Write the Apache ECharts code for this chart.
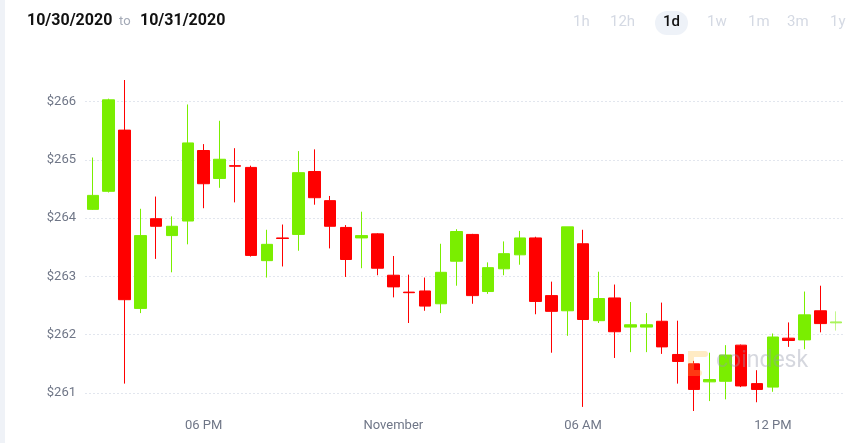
<!DOCTYPE html>
<html>
<head>
<meta charset="utf-8">
<script src="https://cdn.jsdelivr.net/npm/echarts@6/dist/echarts.min.js"></script>
<style>
  html, body { margin: 0; padding: 0; background: #fff; }
  #chart { width: 864px; height: 443px; }
</style>
</head>
<body>
<div id="chart"></div>
<script>
// 30 minute candles, 10/30 2:30 PM -> 10/31 2:00 PM
const times = [
  '14:30', '15:00', '15:30', '16:00', '16:30', '17:00', '17:30', '18:00',
  '18:30', '19:00', '19:30', '20:00', '20:30', '21:00', '21:30', '22:00',
  '22:30', '23:00', '23:30', '00:00', '00:30', '01:00', '01:30', '02:00',
  '02:30', '03:00', '03:30', '04:00', '04:30', '05:00', '05:30', '06:00',
  '06:30', '07:00', '07:30', '08:00', '08:30', '09:00', '09:30', '10:00',
  '10:30', '11:00', '11:30', '12:00', '12:30', '13:00', '13:30', '14:00'
]
const tickLabels = { '18:00': '06 PM', '00:00': 'November', '06:00': '06 AM', '12:00': '12 PM' }

const opens = [
  264.15, 264.46, 265.51, 262.45, 263.99, 263.70, 263.95, 265.16, 264.68, 264.90, 264.87, 263.27,
  263.66, 263.72, 264.80, 264.30, 263.84, 263.66, 263.73, 263.02, 262.73, 262.75, 262.53, 263.26,
  263.72, 262.74, 263.13, 263.37, 263.66, 262.67, 262.41, 263.56, 262.24, 262.63, 262.13, 262.13,
  262.23, 261.66, 261.50, 261.19, 261.20, 261.82, 261.16, 261.10, 261.94, 261.91, 262.41, 262.20
]
const closes = [
  264.39, 266.03, 262.60, 263.70, 263.86, 263.86, 265.29, 264.59, 265.01, 264.89, 263.36, 263.55,
  263.65, 264.78, 264.35, 263.86, 263.29, 263.70, 263.14, 262.82, 262.72, 262.49, 263.07, 263.77,
  262.67, 263.15, 263.39, 263.66, 262.57, 262.40, 263.85, 262.26, 262.62, 262.05, 262.17, 262.17,
  261.79, 261.54, 261.06, 261.23, 261.65, 261.12, 261.06, 261.96, 261.90, 262.34, 262.19, 262.22
]
const lows = [
  264.14, 264.44, 261.16, 262.37, 263.30, 263.07, 263.55, 264.17, 264.52, 264.27, 263.34, 262.98,
  263.17, 263.44, 264.23, 263.48, 262.99, 263.14, 263.02, 262.64, 262.20, 262.41, 262.37, 262.84,
  262.53, 262.70, 263.02, 263.20, 262.35, 261.69, 261.98, 260.76, 262.20, 261.60, 261.70, 261.70,
  261.67, 261.16, 260.69, 260.86, 260.89, 261.10, 260.84, 261.02, 261.79, 261.75, 262.04, 262.07
]
const highs = [
  265.04, 266.05, 266.37, 264.16, 264.37, 264.03, 265.95, 265.27, 265.67, 265.20, 264.90, 263.80,
  263.89, 265.15, 265.18, 264.38, 263.88, 264.11, 263.74, 263.35, 263.03, 262.98, 263.56, 263.81,
  263.73, 263.24, 263.60, 263.78, 263.68, 262.91, 263.85, 263.80, 263.08, 262.86, 262.56, 262.37,
  262.55, 262.24, 261.55, 261.69, 261.82, 261.83, 261.39, 262.02, 262.21, 262.74, 262.84, 262.40
]

const up = '#7aee00'
const down = '#ff0000'

// last candle is still open, drawn faded
const candles = opens.map((o, i) => {
  const item = { value: [o, closes[i], lows[i], highs[i]] }
  if (i === opens.length - 1) item.itemStyle = { opacity: 0.45 }
  return item
})

const chart = echarts.init(document.getElementById('chart'))

const option = {
  animation: false,
  backgroundColor: '#fff',
  textStyle: { fontFamily: 'Roboto, "Liberation Sans", sans-serif' },
  grid: { left: 85, right: 20, top: 80, bottom: 32 },
  xAxis: {
    type: 'category',
    data: times,
    boundaryGap: true,
    axisLine: { show: false },
    axisTick: { show: false },
    splitLine: { show: false },
    axisLabel: {
      interval: (idx, val) => tickLabels[val] !== undefined,
      formatter: v => tickLabels[v] || '',
      color: '#6f7687',
      fontSize: 13,
      margin: 8
    }
  },
  yAxis: {
    type: 'value',
    scale: true,
    min: 'dataMin',
    max: 'dataMax',
    splitNumber: 5,
    axisLine: { show: false },
    axisTick: { show: false },
    axisLabel: {
      showMinLabel: false,
      showMaxLabel: false,
      color: '#6f7687',
      fontSize: 13,
      margin: 9,
      formatter: v => '$' + v
    },
    splitLine: {
      showMinLine: false,
      showMaxLine: false,
      lineStyle: { color: '#e2e6ee', type: [2, 2], width: 1 }
    }
  },
  graphic: [
    { type: 'rect', left: 0, top: 0, shape: { width: 5, height: 443 }, style: { fill: '#eff2f7' } },
    { type: 'text', left: 27, top: 13, style: { text: '10/30/2020', fill: '#111', font: 'bold 16px Roboto' } },
    { type: 'text', left: 119, top: 15, style: { text: 'to', fill: '#a3a9b6', font: '13px Roboto' } },
    { type: 'text', left: 140, top: 13, style: { text: '10/31/2020', fill: '#111', font: 'bold 16px Roboto' } },
    { type: 'rect', left: 655, top: 11, shape: { width: 33, height: 24, r: 12 }, style: { fill: '#eef2f8' } },
    { type: 'text', left: 573, top: 15, style: { text: '1h', fill: '#d4d9e3', font: '15px Roboto' } },
    { type: 'text', left: 610, top: 15, style: { text: '12h', fill: '#d4d9e3', font: '15px Roboto' } },
    { type: 'text', left: 663, top: 15, style: { text: '1d', fill: '#111', font: '500 15px Roboto' } },
    { type: 'text', left: 707, top: 15, style: { text: '1w', fill: '#d4d9e3', font: '15px Roboto' } },
    { type: 'text', left: 748, top: 15, style: { text: '1m', fill: '#d4d9e3', font: '15px Roboto' } },
    { type: 'text', left: 787, top: 15, style: { text: '3m', fill: '#d4d9e3', font: '15px Roboto' } },
    { type: 'text', left: 830, top: 15, style: { text: '1y', fill: '#d4d9e3', font: '15px Roboto' } },
    // watermark
    {
      type: 'polyline', z: 100,
      shape: { points: [[705, 354], [691, 354], [691, 373], [699, 373]] },
      style: { stroke: 'rgba(255, 190, 60, 0.3)', lineWidth: 6, fill: null, lineCap: 'round' }
    },
    { type: 'text', z: 100, left: 716, top: 350, style: { text: 'coindesk', fill: 'rgba(150, 156, 172, 0.4)', font: '23px Roboto' } }
  ],
  series: [
    {
      type: 'candlestick',
      data: candles,
      barWidth: 12,
      itemStyle: {
        color: up,
        color0: down,
        borderColor: up,
        borderColor0: down,
        borderWidth: 1
      }
    }
  ]
}

chart.setOption(option)
</script>
</body>
</html>
